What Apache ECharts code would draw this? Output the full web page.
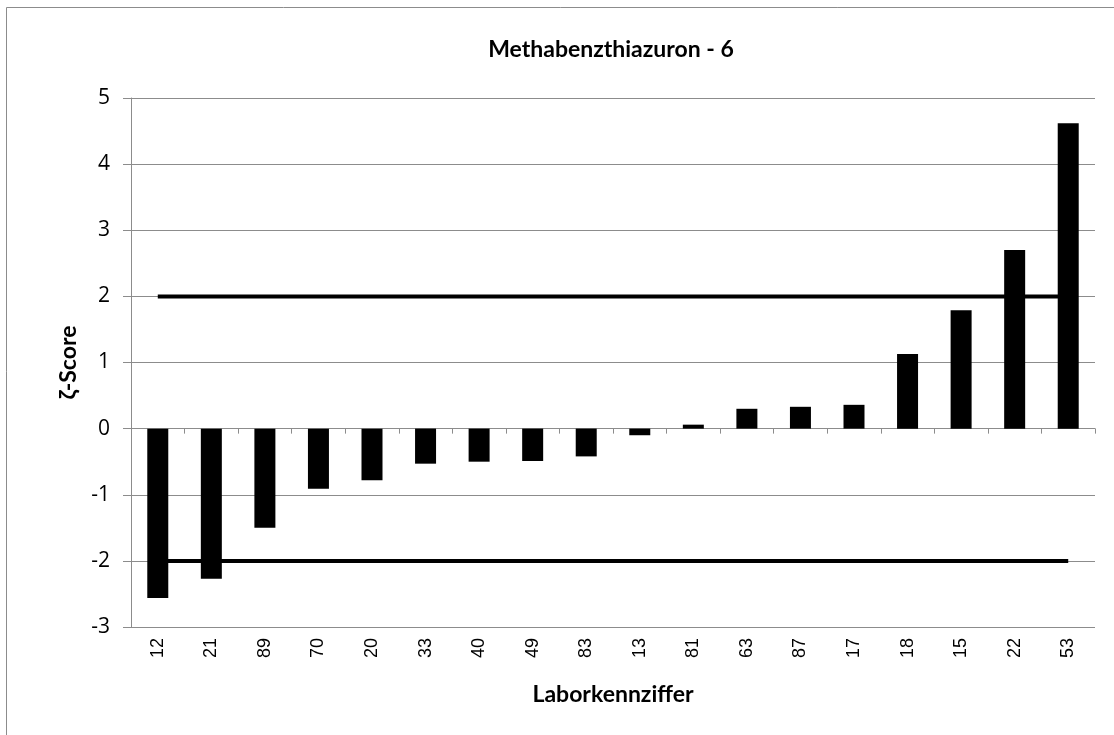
<!DOCTYPE html>
<html><head><meta charset="utf-8">
<script src="https://cdn.jsdelivr.net/npm/echarts@6/dist/echarts.min.js"></script>
<style>html,body{margin:0;padding:0;background:#fff}#c{width:1114px;height:735px}</style>
</head><body><div id="c"></div>
<script>
const labs = ['12','21','89','70','20','33','40','49','83','13','81','63','87','17','18','15','22','53'];
const zScores = [-2.56,-2.27,-1.50,-0.91,-0.78,-0.53,-0.50,-0.49,-0.42,-0.10,0.06,0.30,0.33,0.36,1.13,1.79,2.70,4.62];
const upperLimit = labs.map(() => 2);
const lowerLimit = labs.map(() => -2);
const titleText = 'Methabenzthiazuron - 6';
const xName = 'Laborkennziffer';
const yName = 'ζ-Score';

const chart = echarts.init(document.getElementById('c'), null, {renderer:'canvas'});
const fontF = 'Lato, "Open Sans", sans-serif';
chart.setOption({
  animation:false,
  backgroundColor:'#fff',
  graphic:[{type:'rect', shape:{x:6.5,y:7.5,width:1200,height:800}, style:{fill:null, stroke:'#8c8c8c', lineWidth:1}, z:-1}],
  title:{text:titleText, left:606, top:33, textAlign:'center',
    textStyle:{fontFamily:fontF, fontWeight:'bold', fontSize:23, color:'#000'}},
  grid:{left:131, right:19, top:98, bottom:108, containLabel:false},
  xAxis:[{
    type:'category', data:labs, position:'bottom',
    axisLine:{show:false, onZero:false}, axisTick:{show:false},
    axisLabel:{rotate:90, fontFamily:'"Liberation Sans", Arial, sans-serif', fontSize:18, color:'#000', margin:11},
    name:xName, nameLocation:'middle', nameGap:56,
    nameTextStyle:{fontFamily:fontF, fontWeight:'bold', fontSize:23, color:'#000'}
  },{
    type:'category', data:labs, position:'bottom',
    axisLine:{show:true, onZero:true, lineStyle:{color:'#8c8c8c', width:1}},
    axisTick:{show:true, length:5, alignWithLabel:false, lineStyle:{color:'#8c8c8c'}},
    axisLabel:{show:false}
  }],
  yAxis:{
    type:'value', min:-3, max:5, interval:1,
    axisLine:{show:true, lineStyle:{color:'#8c8c8c'}},
    axisTick:{show:true, length:8, lineStyle:{color:'#8c8c8c'}},
    splitLine:{show:true, lineStyle:{color:'#8c8c8c', width:1}},
    axisLabel:{fontFamily:'"Open Sans", Lato, sans-serif', fontSize:21, color:'#000', margin:21},
    name:yName, nameLocation:'middle', nameGap:32, nameRotate:90,
    nameTextStyle:{fontFamily:fontF, fontWeight:'bold', fontSize:23, color:'#000'}
  },
  series:[
    {type:'bar', data:zScores, xAxisIndex:0, barWidth:21, itemStyle:{color:'#000'}, z:2},
    {type:'line', data:upperLimit, xAxisIndex:0, symbol:'none', lineStyle:{color:'#000', width:4}, z:3},
    {type:'line', data:lowerLimit, xAxisIndex:0, symbol:'none', lineStyle:{color:'#000', width:4}, z:3}
  ]
});
</script></body></html>
